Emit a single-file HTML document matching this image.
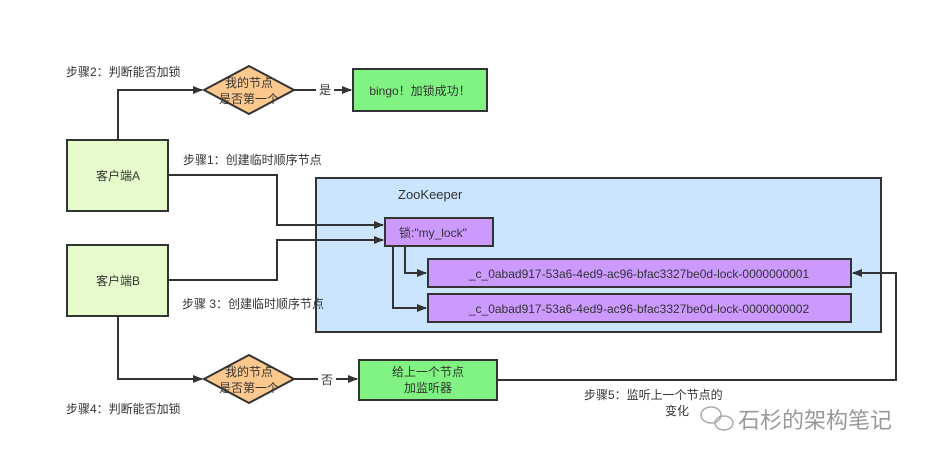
<!DOCTYPE html>
<html><head><meta charset="utf-8"><style>
body{margin:0;background:#fff;}
svg text{font-family:"Liberation Sans","Noto Sans CJK SC",sans-serif;fill:#333;}
</style></head><body>
<svg width="928" height="459" xmlns="http://www.w3.org/2000/svg">
<defs><marker id="a" markerWidth="10" markerHeight="8" refX="9" refY="4" orient="auto" markerUnits="userSpaceOnUse"><path d="M0,0 L10,4 L0,8 Z" fill="#333"/></marker></defs>
<g stroke="#333" stroke-width="2" fill="none">
<rect x="316" y="178" width="565" height="154" fill="#cce5ff"/>
<rect x="67" y="140" width="101" height="71" fill="#e6fbcc"/>
<rect x="67" y="245" width="101" height="71" fill="#e6fbcc"/>
<polygon points="204,90 249,66 294,90 249,114" fill="#fdc88e"/>
<polygon points="204,379 249,355 294,379 249,403" fill="#fdc88e"/>
<rect x="353" y="69" width="134" height="42" fill="#80f383"/>
<rect x="359" y="360" width="138" height="40" fill="#80f383"/>
<rect x="385" y="218" width="108" height="28" fill="#cc99ff"/>
<rect x="428" y="259" width="423" height="28" fill="#cc99ff"/>
<rect x="428" y="294" width="423" height="28" fill="#cc99ff"/>
<path d="M118,140 V90 H202" marker-end="url(#a)"/>
<path d="M294,90 H316 M334,90 H351" marker-end="url(#a)"/>
<path d="M168,175 H277 V225 H383" marker-end="url(#a)"/>
<path d="M168,280 H277 V240 H383" marker-end="url(#a)"/>
<path d="M405,246 V273 H426" marker-end="url(#a)"/>
<path d="M393,246 V308 H426" marker-end="url(#a)"/>
<path d="M118,316 V379 H202" marker-end="url(#a)"/>
<path d="M294,379 H318 M336,379 H357" marker-end="url(#a)"/>
<path d="M497,380 H896 V273 H853" marker-end="url(#a)"/>
</g>
<g font-size="12">
<text x="66" y="76">步骤2：判断能否加锁</text>
<text x="183" y="164">步骤1：创建临时顺序节点</text>
<text x="182" y="308">步骤 3：创建临时顺序节点</text>
<text x="66" y="413">步骤4：判断能否加锁</text>
<text x="584" y="399">步骤5：监听上一个节点的</text>
<text x="665" y="415">变化</text>
<text x="118" y="180" text-anchor="middle">客户端A</text>
<text x="118" y="285" text-anchor="middle">客户端B</text>
<text x="249" y="87" text-anchor="middle">我的节点</text>
<text x="249" y="103" text-anchor="middle">是否第一个</text>
<text x="249" y="376" text-anchor="middle">我的节点</text>
<text x="249" y="392" text-anchor="middle">是否第一个</text>
<text x="325" y="94" text-anchor="middle">是</text>
<text x="327" y="384" text-anchor="middle">否</text>
<text x="420" y="95" text-anchor="middle">bingo！加锁成功！</text>
<text x="428" y="376" text-anchor="middle">给上一个节点</text>
<text x="428" y="392" text-anchor="middle">加监听器</text>
<text x="398" y="199" font-size="13">ZooKeeper</text>
<text x="399" y="237">锁:"my_lock"</text>
<text x="639" y="278" text-anchor="middle">_c_0abad917-53a6-4ed9-ac96-bfac3327be0d-lock-0000000001</text>
<text x="639" y="313" text-anchor="middle">_c_0abad917-53a6-4ed9-ac96-bfac3327be0d-lock-0000000002</text>
</g>
<g stroke="#aaa" fill="none" stroke-width="1.5"><ellipse cx="711" cy="415" rx="10" ry="8"/><ellipse cx="724" cy="423" rx="9" ry="7"/></g>
<text x="738" y="428" font-size="22" style="fill:#999">石杉的架构笔记</text>
</svg>
</body></html>
